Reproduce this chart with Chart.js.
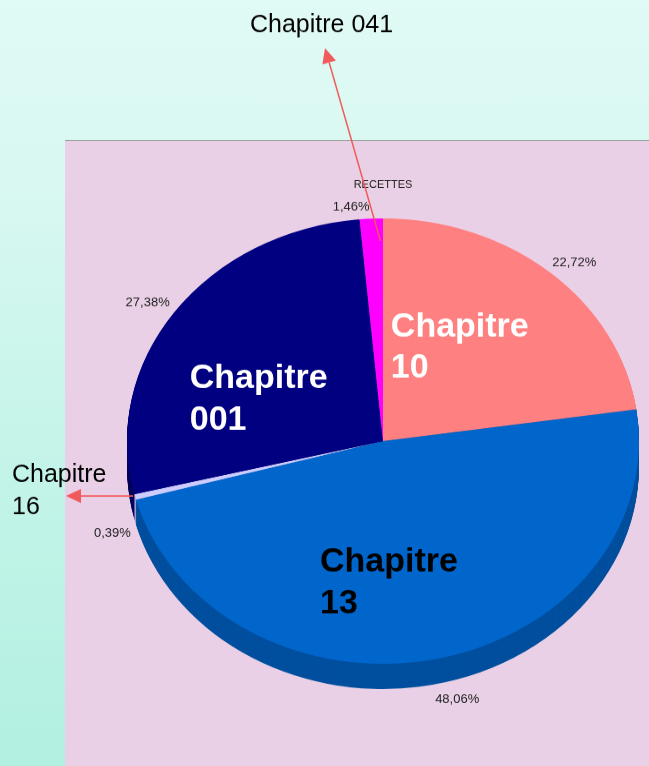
<!DOCTYPE html>
<html lang="fr">
<head>
<meta charset="UTF-8">
<title>Recettes</title>
<script src="https://cdn.jsdelivr.net/npm/chart.js"></script>
<style>
  html, body { margin: 0; padding: 0; overflow: hidden; }
  body {
    width: 649px; height: 766px; position: relative;
    background: linear-gradient(to bottom, #e0faf5 0%, #d8f8f1 25%, #c4f4e9 60%, #b2f0e1 100%);
    font-family: "Liberation Sans", Arial, sans-serif;
  }
  .panel {
    position: absolute; left: 65px; top: 140px; width: 584px; height: 626px;
    background: #ead0e6; border-top: 1px solid #9aa39f;
  }
  #pie {
    position: absolute; left: 0; top: 0;
    transform: scaleY(0.87); transform-origin: 0 0;
  }
</style>
</head>
<body>
<div class="panel"></div>
<canvas id="pie" width="649" height="881"></canvas>

<script>
// data, clockwise from 12 o'clock
const categories = ['Chapitre 10', 'Chapitre 13', 'Chapitre 16', 'Chapitre 001', 'Chapitre 041'];
const shares = [22.72, 48.06, 0.39, 27.38, 1.46];
const chartTitle = 'RECETTES';

const topColors = ['#ff8080', '#0066cc', '#ccccff', '#000080', '#ff00ff'];
const sideColors = ['#c86060', '#004f9e', '#9a9ad0', '#00005a', '#b000b0'];

const K = 0.87;      // vertical squash of the canvas (tilted pie)
const DEPTH = 29;    // thickness of the pie, canvas px
const FONT = '"Liberation Sans", Arial, sans-serif';

// label placement (screen px offsets from the slice anchor)
const pctOffsets = [[7, 7], [17, 18], [2, 31], [-6, 4], [-19, 11]];
const bigLabels = {
    0: { color: '#ffffff', off: [-7, -9] },
    1: { color: '#000000', off: [-20, 33] },
    3: { color: '#ffffff', off: [-20, 23] }
};
const callouts = {
    2: { f: 1.0, from: [-2, 0], tip: [66, 496], x: 12, lines: [475, 507] },
    4: { f: 0.9, from: [8, 0], tip: [325, 48], x: 250, lines: [25] }
};

function anchor(a, f) {
    const mid = (a.startAngle + a.endAngle) / 2;
    return {
        x: a.x + f * a.outerRadius * Math.cos(mid),
        y: a.y * K + f * a.outerRadius * K * Math.sin(mid)
    };
}

const sidePlugin = {
    id: 'side',
    beforeDatasetsDraw(chart) {
        const ctx = chart.ctx;
        const arcs = chart.getDatasetMeta(0).data;
        ctx.save();
        for (let d = DEPTH; d >= 1; d--) {
            arcs.forEach((a, i) => {
                ctx.beginPath();
                ctx.moveTo(a.x, a.y + d);
                ctx.arc(a.x, a.y + d, a.outerRadius, a.startAngle, a.endAngle);
                ctx.closePath();
                ctx.fillStyle = sideColors[i];
                ctx.fill();
            });
        }
        ctx.restore();
    }
};

function arrow(ctx, x1, y1, x2, y2) {
    const ang = Math.atan2(y2 - y1, x2 - x1);
    const len = 15, half = 7;
    const bx = x2 - len * Math.cos(ang), by = y2 - len * Math.sin(ang);
    ctx.strokeStyle = '#f05a5a';
    ctx.fillStyle = '#f05a5a';
    ctx.lineWidth = 1.5;
    ctx.beginPath();
    ctx.moveTo(x1, y1);
    ctx.lineTo(bx, by);
    ctx.stroke();
    ctx.beginPath();
    ctx.moveTo(x2, y2);
    ctx.lineTo(bx + half * Math.sin(ang), by - half * Math.cos(ang));
    ctx.lineTo(bx - half * Math.sin(ang), by + half * Math.cos(ang));
    ctx.closePath();
    ctx.fill();
}

const labelPlugin = {
    id: 'labels',
    afterDatasetsDraw(chart) {
        const ctx = chart.ctx;
        const arcs = chart.getDatasetMeta(0).data;
        ctx.save();
        ctx.scale(1, 1 / K);   // draw in screen coordinates, undistorted
        ctx.textBaseline = 'middle';

        // title
        ctx.fillStyle = '#222';
        ctx.textAlign = 'center';
        ctx.font = '11px ' + FONT;
        ctx.fillText(chartTitle, arcs[0].x, 185);

        // percentages
        ctx.font = '13px ' + FONT;
        arcs.forEach((a, i) => {
            const p = anchor(a, 1.1);
            const txt = shares[i].toFixed(2).replace('.', ',') + '%';
            ctx.fillStyle = '#222';
            ctx.fillText(txt, p.x + pctOffsets[i][0], p.y + pctOffsets[i][1]);
        });

        // names inside the big slices
        ctx.font = 'bold 34px ' + FONT;
        ctx.textAlign = 'left';
        Object.keys(bigLabels).forEach(k => {
            const i = +k, cfg = bigLabels[i];
            const p = anchor(arcs[i], 0.5);
            const parts = categories[i].split(' ');
            const w = ctx.measureText(parts[0]).width;
            const x = p.x + cfg.off[0] - w / 2;
            const y = p.y + cfg.off[1];
            ctx.fillStyle = cfg.color;
            ctx.fillText(parts[0], x, y - 20.5);
            ctx.fillText(parts[1], x, y + 20.5);
        });

        // callouts for the thin slices
        Object.keys(callouts).forEach(k => {
            const i = +k, cfg = callouts[i];
            const p = anchor(arcs[i], cfg.f);
            const y0 = i === 2 ? cfg.tip[1] : p.y + cfg.from[1];
            arrow(ctx, p.x + cfg.from[0], y0, cfg.tip[0], cfg.tip[1]);
            ctx.font = '25px ' + FONT;
            ctx.fillStyle = '#000';
            if (cfg.lines.length === 1) {
                ctx.fillText(categories[i], cfg.x, cfg.lines[0]);
            } else {
                const parts = categories[i].split(' ');
                ctx.fillText(parts[0], cfg.x, cfg.lines[0]);
                ctx.fillText(parts[1], cfg.x, cfg.lines[1]);
            }
        });
        ctx.restore();
    }
};

new Chart(document.getElementById('pie'), {
    type: 'pie',
    data: {
        labels: categories,
        datasets: [{
            data: shares,
            backgroundColor: topColors,
            borderWidth: 0
        }]
    },
    options: {
        responsive: false,
        animation: false,
        layout: { padding: { left: 127, right: 10, top: 251, bottom: 118 } },
        plugins: {
            legend: { display: false },
            tooltip: { enabled: false }
        }
    },
    plugins: [sidePlugin, labelPlugin]
});
</script>
</body>
</html>
